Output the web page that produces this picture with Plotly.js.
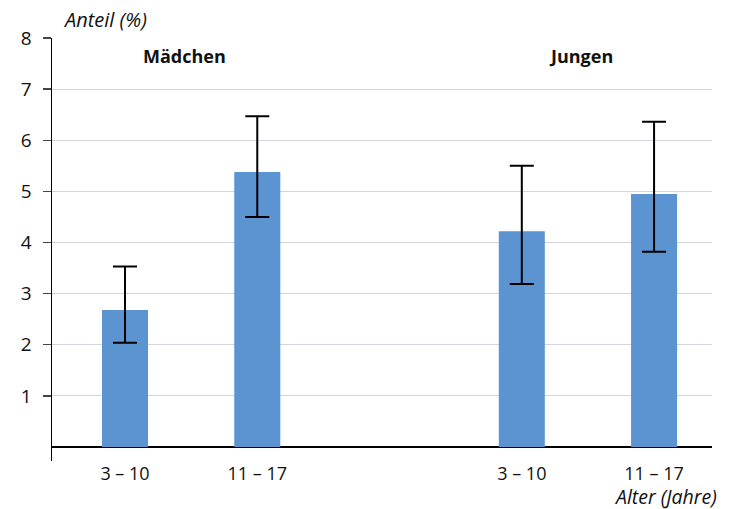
<!DOCTYPE html>
<html>
<head>
<meta charset="utf-8">
<script src="https://cdn.plot.ly/plotly-3.0.1.min.js"></script>
<style>html,body{margin:0;padding:0;background:#fff}#chart{width:736px;height:509px}</style>
</head>
<body>
<div id="chart"></div>
<script>
// Data
const positions = [0, 1, 3, 4];
const tickLabels = ["3 – 10", "11 – 17", "3 – 10", "11 – 17"];
const values = [2.68, 5.38, 4.22, 4.95];
const upperCI = [3.53, 6.47, 5.50, 6.36];
const lowerCI = [2.04, 4.50, 3.19, 3.82];
const groupLabels = ["Mädchen", "Jungen"];
const groupPositions = [0.45, 3.45];
const yTicks = [1, 2, 3, 4, 5, 6, 7, 8];

const errPlus = values.map((v, i) => +(upperCI[i] - v).toFixed(3));
const errMinus = values.map((v, i) => +(v - lowerCI[i]).toFixed(3));

const FONT = "Open Sans";

const trace = {
  type: "bar",
  x: positions,
  y: values,
  width: 0.348,
  marker: {color: "#5b94d0", line: {width: 0}},
  error_y: {
    type: "data",
    symmetric: false,
    array: errPlus,
    arrayminus: errMinus,
    color: "#000000",
    thickness: 2,
    width: 12
  },
  hoverinfo: "skip"
};

const annotations = groupLabels.map((t, i) => ({
  x: groupPositions[i], y: 7.65, xref: "x", yref: "y",
  text: "<b>" + t + "</b>", showarrow: false,
  font: {family: FONT, size: 18, color: "#111"}
}));
annotations.push({
  x: 61, y: 20, xref: "paper", yref: "paper", text: "<i>Anteil (%)</i>",
  showarrow: false, xanchor: "left", yanchor: "middle",
  font: {family: FONT, size: 20, color: "#111"}
});
annotations.push({
  x: 719, y: 496, xref: "paper", yref: "paper", text: "<i>Alter (Jahre)</i>",
  showarrow: false, xanchor: "right", yanchor: "middle",
  font: {family: FONT, size: 19.5, color: "#111"}
});
// convert pixel annotations to paper coords
const L = 52, R = 24, T = 38, B = 48, W = 736, H = 509;
annotations.forEach(a => {
  if (a.xref === "paper") {
    a.x = (a.x - L) / (W - L - R);
    a.y = 1 - (a.y - T) / (H - T - B);
  }
});

const layout = {
  width: W, height: H,
  margin: {l: L, r: R, t: T, b: B, pad: 0},
  paper_bgcolor: "#ffffff",
  plot_bgcolor: "#ffffff",
  showlegend: false,
  font: {family: FONT, size: 18, color: "#111"},
  xaxis: {
    range: [-0.552, 4.438],
    tickvals: positions,
    ticktext: tickLabels,
    showgrid: false,
    zeroline: false,
    showline: false,
    ticks: "",
    tickfont: {family: FONT, size: 18, color: "#111"},
    fixedrange: true
  },
  yaxis: {
    range: [-0.274, 8],
    tickvals: yTicks,
    ticktext: yTicks.map(String),
    showgrid: true,
    gridcolor: "#d2d4dc",
    gridwidth: 1,
    zeroline: true,
    zerolinecolor: "#000000",
    zerolinewidth: 1.5,
    showline: true,
    linecolor: "#000000",
    linewidth: 1.5,
    ticks: "outside",
    ticklen: 8,
    tickcolor: "#444",
    tickwidth: 1.5,
    ticklabelstandoff: 7,
    tickfont: {family: FONT, size: 19, color: "#111"},
    fixedrange: true
  },
  annotations: annotations
};

Plotly.newPlot("chart", [trace], layout, {displayModeBar: false, staticPlot: true});
</script>
</body>
</html>
